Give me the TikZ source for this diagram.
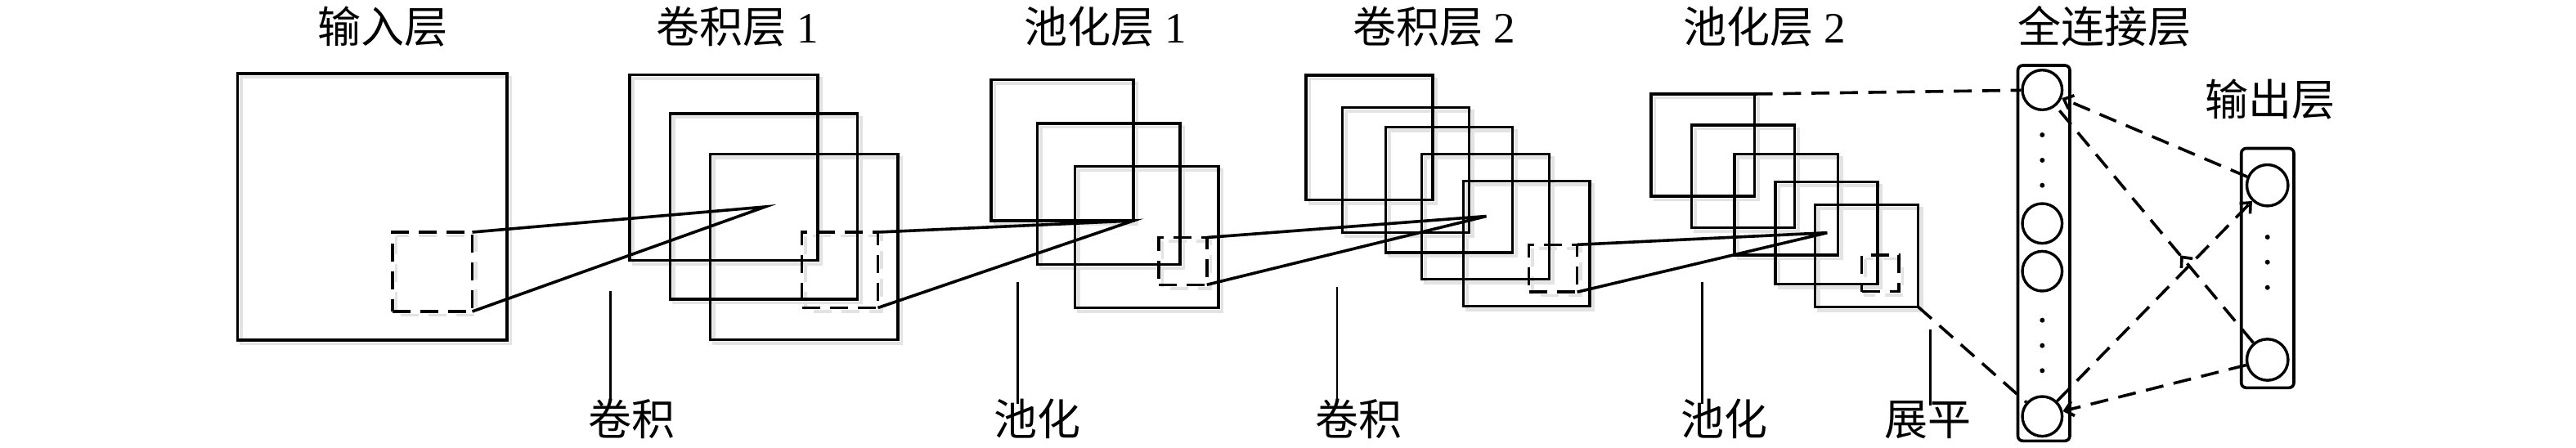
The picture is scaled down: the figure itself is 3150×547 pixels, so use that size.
\documentclass[tikz,border=0pt]{standalone}
\usepackage{fontspec}
\setmainfont{Liberation Serif}
\newfontfamily\cjk{Noto Sans CJK SC}
\usetikzlibrary{fit,calc,backgrounds,arrows.meta,decorations.markings}

\tikzset{
  fbox/.style={draw, line width=0.9pt, inner sep=0pt, outer sep=0pt},
  fshadow/.style={draw=black!11, line width=0.85pt},
  dashbox/.style={dash pattern=on 5.5pt off 3pt},
  conn/.style={line width=0.9pt},
  dconn/.style={line width=0.9pt, dash pattern=on 5.5pt off 3.2pt},
  guide/.style={line width=0.6pt},
  lbl/.style={font=\fontsize{13.25}{16}\selectfont, inner sep=0pt, anchor=base},
  neuron/.style={circle, draw, line width=0.85pt, inner sep=0pt, minimum size=#1},
  column/.style={draw, rounded corners=1.5pt, line width=0.9pt, inner sep=0pt},
  arrowend/.style={-{Straight Barb[length=2.5pt,width=4.5pt]}},
  midarrow/.style={postaction={decorate}, decoration={markings,
      mark=at position #1 with {\arrow{Straight Barb[length=2.5pt,width=4.5pt]}}}},
}

% [options] name x1 y1 x2 y2
\newcommand\fmap[6][]{%
  \node[fbox,#1,fit={(#3,#4) (#5,#6)}] (#2) {};
  \begin{pgfonlayer}{background}
    \draw[fshadow,#1] ($(#3,#4)+(4.5,4.5)$) rectangle ($(#5,#6)+(4.5,4.5)$);
  \end{pgfonlayer}}

\begin{document}
\begin{tikzpicture}[x=0.25pt, y=-0.25pt]
\useasboundingbox (0,0) rectangle (3150,547);

% ---------- titles ----------
\node[lbl] (tIn)  at (468,52)    {\cjk 输入层};
\node[lbl] (tC1)  at (901.5,52)  {{\cjk 卷积层} 1};
\node[lbl] (tP1)  at (1352,52)   {{\cjk 池化层} 1};
\node[lbl] (tC2)  at (1753.5,52) {{\cjk 卷积层} 2};
\node[lbl] (tP2)  at (2158,52)   {{\cjk 池化层} 2};
\node[lbl] (tFC)  at (2573,52)   {\cjk 全连接层};
\node[lbl] (tOut) at (2776,141)  {\cjk 输出层};

% ---------- input ----------
\fmap{inp}{290.5}{90}{620}{416}
\fmap[dashbox]{inpd}{480}{284}{577.5}{381}

% ---------- conv 1 ----------
\fmap{c1a}{770}{91.5}{1000}{318.3}
\fmap{c1b}{819.5}{139}{1048.3}{366}
\fmap{c1c}{868.3}{188.3}{1097.7}{415.5}
\fmap[dashbox]{c1d}{980.5}{284}{1073.5}{376.5}
\coordinate (pc1) at (935.5,253);

% ---------- pool 1 ----------
\fmap{p1a}{1211.7}{97.3}{1385.7}{270}
\fmap{p1b}{1268.3}{151}{1442.7}{323.5}
\fmap{p1c}{1314.5}{203.3}{1490}{376.3}
\fmap[dashbox]{p1d}{1416.7}{290.5}{1475.8}{348.3}

% ---------- conv 2 ----------
\fmap{c2a}{1596.7}{91.7}{1751.7}{244.5}
\fmap{c2b}{1641.5}{131.6}{1796.6}{284.3}
\fmap{c2c}{1694.3}{155.3}{1849.3}{309.2}
\fmap{c2d}{1738.6}{188.3}{1894.4}{341.5}
\fmap{c2e}{1789.6}{221.3}{1944.2}{374.3}
\fmap[dashbox]{c2f}{1869.5}{299.3}{1928.6}{357.2}
\coordinate (pc2) at (1817.5,264.5);

% ---------- pool 2 ----------
\fmap{p2a}{2019.2}{115}{2145.5}{240}
\fmap{p2b}{2068.5}{153}{2194.6}{278.3}
\fmap{p2c}{2121}{188.3}{2247.4}{311.8}
\fmap{p2d}{2170.8}{222.3}{2296}{347.4}
\fmap{p2e}{2219.5}{250.5}{2345.5}{375.3}
\fmap[dashbox]{p2f}{2276.5}{312}{2322}{356.5}
\coordinate (pp2) at (2234.3,284.7);

% ---------- receptive-field connectors ----------
\draw[conn] (inpd.north east) -- (pc1) -- (inpd.south east);
\draw[conn] (c1d.north east) -- (p1a.south east) -- (c1d.south east);
\draw[conn] (p1d.north east) -- (pc2) -- (p1d.south east);
\draw[conn] (c2f.north east) -- (pp2) -- (c2f.south east);

% ---------- fully connected ----------
\node[column, fit={(2467.5,80) (2531,539.3)}] (fc) {};
\node[neuron=12.15pt] (fc1) at (2497.3,110) {};
\node[neuron=12.15pt] (fc2) at (2497.3,273.3) {};
\node[neuron=12.15pt] (fc3) at (2497.3,331.7) {};
\node[neuron=12.15pt] (fc4) at (2497.3,509.3) {};
\foreach \yy in {165,196,226.7,391.7,422.7,453.3}
  \fill (2497.3,\yy) circle (0.75pt);

% ---------- output ----------
\node[column, fit={(2740.7,181.5) (2805,474.3)}] (out) {};
\node[neuron=12.6pt] (out1) at (2772.7,226.7) {};
\node[neuron=12.6pt] (out2) at (2772.7,440) {};
\foreach \yy in {290,320.7,351.7}
  \fill (2772.7,\yy) circle (0.75pt);

% ---------- flatten / dense connectors ----------
\draw[dconn] (p2a.north east) -- (fc1);
\draw[dconn] (p2e.south east) -- (fc4);
\draw[dconn, arrowend] (out1) -- (fc1);
\draw[dconn, midarrow=0.37] (out2) -- (fc1);
\draw[dconn, arrowend] (fc4) -- (out1);
\draw[dconn, arrowend] (out2) -- (fc4);

% ---------- operation labels ----------
\node[lbl] (lb1) at (772,532)    {\cjk 卷积};
\node[lbl] (lb2) at (1268,532)   {\cjk 池化};
\node[lbl] (lb3) at (1661,532)   {\cjk 卷积};
\node[lbl] (lb4) at (2108,532)   {\cjk 池化};
\node[lbl] (lb5) at (2357.6,532) {\cjk 展平};
\coordinate (g1) at (746.5,356);
\coordinate (g2) at (1244.5,345);
\coordinate (g3) at (1635,351);
\coordinate (g4) at (2081.5,345);
\coordinate (g5) at (2360.4,403);
\draw[guide] (g1) -- (g1 |- {$(lb1.north)+(0,3)$});
\draw[guide] (g2) -- (g2 |- {$(lb2.north)+(0,7)$});
\draw[guide] (g3) -- (g3 |- {$(lb3.north)+(0,4)$});
\draw[guide] (g4) -- (g4 |- {$(lb4.north)+(0,7)$});
\draw[guide] (g5) -- (g5 |- {$(lb5.north)+(0,7)$});
\end{tikzpicture}
\end{document}
